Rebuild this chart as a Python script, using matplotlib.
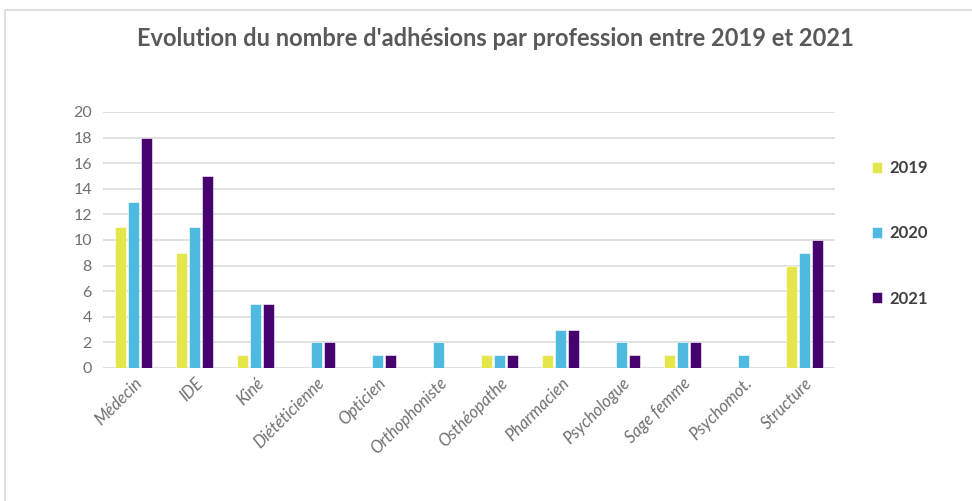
import numpy as np
import matplotlib.pyplot as plt
from matplotlib.patches import Rectangle

professions = ["Médecin", "IDE", "Kiné", "Diététicienne", "Opticien", "Orthophoniste",
               "Osthéopathe", "Pharmacien", "Psychologue", "Sage femme", "Psychomot.", "Structure"]
val_2019 = [11, 9, 1, 0, 0, 0, 1, 1, 0, 1, 0, 8]
val_2020 = [13, 11, 5, 2, 1, 2, 1, 3, 2, 2, 1, 9]
val_2021 = [18, 15, 5, 2, 1, 0, 1, 3, 1, 2, 0, 10]
years = ["2019", "2020", "2021"]
colors = ["#E4E64B", "#4FBAE0", "#46036F"]

plt.rcParams['font.family'] = ['Lato', 'DejaVu Sans']

fig = plt.figure(figsize=(9.72, 5.01), dpi=100)
ax = fig.add_axes([0.106, 0.2655, 0.753, 0.511])

# light frame around the whole chart
fig.patches.append(Rectangle((0.005, -0.01), 1.2, 0.99, transform=fig.transFigure,
                             fill=False, edgecolor="#D9D9D9", linewidth=1.2))

x = np.arange(len(professions))
w = 0.185
step = 0.215
for i, (vals, c, y) in enumerate(zip([val_2019, val_2020, val_2021], colors, years)):
    ax.bar(x + (i - 1) * step, vals, width=w, color=c, label=y,
           edgecolor="white", linewidth=0.4, zorder=3)

ax.set_xlim(-0.5, len(professions) - 0.5)
ax.set_ylim(0, 20)
ax.set_yticks(range(0, 21, 2))
ax.grid(axis="y", color="#D9D9D9", linewidth=1.1, zorder=0)
for s in ax.spines.values():
    s.set_visible(False)
ax.tick_params(length=0, colors="#595959", labelsize=11.5)
ax.tick_params(axis="y", pad=8)
ax.tick_params(axis="x", pad=5)
ax.set_xticks(x)
ax.set_xticklabels(professions, rotation=45, ha="right", rotation_mode="anchor",
                   fontstyle="italic", color="#707070", fontsize=12)
for lbl in ax.get_yticklabels():
    lbl.set_color("#707070")

fig.text(0.51, 0.923, "Evolution du nombre d'adhésions par profession entre 2019 et 2021",
         ha="center", va="center", fontsize=17, fontweight="bold", color="#595959")

leg = fig.legend(loc="upper left", bbox_to_anchor=(0.882, 0.71), frameon=False,
                 labelspacing=2.95, handlelength=0.6, handleheight=0.6, handletextpad=0.4,
                 prop={"weight": "bold", "size": 12})
for t in leg.get_texts():
    t.set_color("#404040")

fig.savefig("out.png", dpi=100)
